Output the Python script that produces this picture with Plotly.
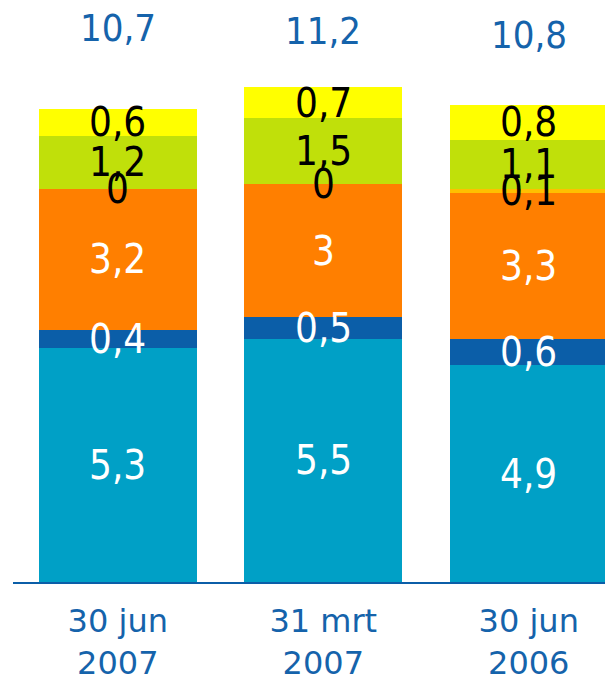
import plotly.graph_objects as go

# Data
periods = ["30 jun<br>2007", "31 mrt<br>2007", "30 jun<br>2006"]
totals = [10.7, 11.2, 10.8]

seg_a = [5.3, 5.5, 4.9]   # light blue
seg_b = [0.4, 0.5, 0.6]   # dark blue
seg_c = [3.2, 3.0, 3.3]   # orange
seg_d = [0.0, 0.0, 0.1]   # gold
seg_e = [1.2, 1.5, 1.1]   # lime
seg_f = [0.6, 0.7, 0.8]   # yellow

SEGMENTS = [
    (seg_a, '#00A0C6', 'white'),
    (seg_b, '#0B5EA8', 'white'),
    (seg_c, '#FF7F00', 'white'),
    (seg_d, '#FFC000', 'black'),
    (seg_e, '#C0E00A', 'black'),
    (seg_f, '#FFFF00', 'black'),
]

BLUE = '#1563AB'
FONT = "DejaVu Sans Condensed, DejaVu Sans, sans-serif"
TICK_FONT = "DejaVu Sans, sans-serif"


def fmt(v):
    return f"{v:g}".replace('.', ',')


x = list(range(len(periods)))
fig = go.Figure()
annotations = []
base = [0.0] * len(periods)

for values, color, text_color in SEGMENTS:
    fig.add_trace(go.Bar(
        x=x,
        y=values,
        width=0.77,
        marker=dict(color=color, line=dict(width=0)),
        hoverinfo='skip',
        showlegend=False,
    ))
    # value label centred on each segment
    for i, v in enumerate(values):
        annotations.append(dict(
            x=x[i], y=base[i] + v / 2, xref='x', yref='y',
            text=fmt(v), showarrow=False,
            font=dict(family=FONT, size=40, color=text_color),
        ))
        base[i] += v

# totals above the bars (slightly staggered, as in the original)
total_shift = [2, -1, -5]
for i, t in enumerate(totals):
    annotations.append(dict(
        x=x[i], y=12.5, xref='x', yref='y', yshift=total_shift[i],
        text=fmt(t), showarrow=False,
        font=dict(family=FONT, size=38, color=BLUE),
    ))

# page body adds an 8px margin, so the figure is sized to fit inside it
fig.update_layout(
    barmode='stack',
    bargap=0,
    width=605,
    height=670,
    margin=dict(t=0, b=96, l=5, r=0),
    plot_bgcolor='white',
    paper_bgcolor='white',
    annotations=annotations,
    xaxis=dict(
        range=[-0.51, 2.41],
        tickvals=x,
        ticktext=periods,
        tickfont=dict(family=TICK_FONT, size=32, color=BLUE),
        ticklabelstandoff=10,
        automargin=False,
        showline=True,
        linecolor='#0B5EA8',
        linewidth=2,
        showgrid=False,
        zeroline=False,
        ticks='',
    ),
    yaxis=dict(range=[0, 12.99], visible=False),
)

fig.write_html("out.html")
